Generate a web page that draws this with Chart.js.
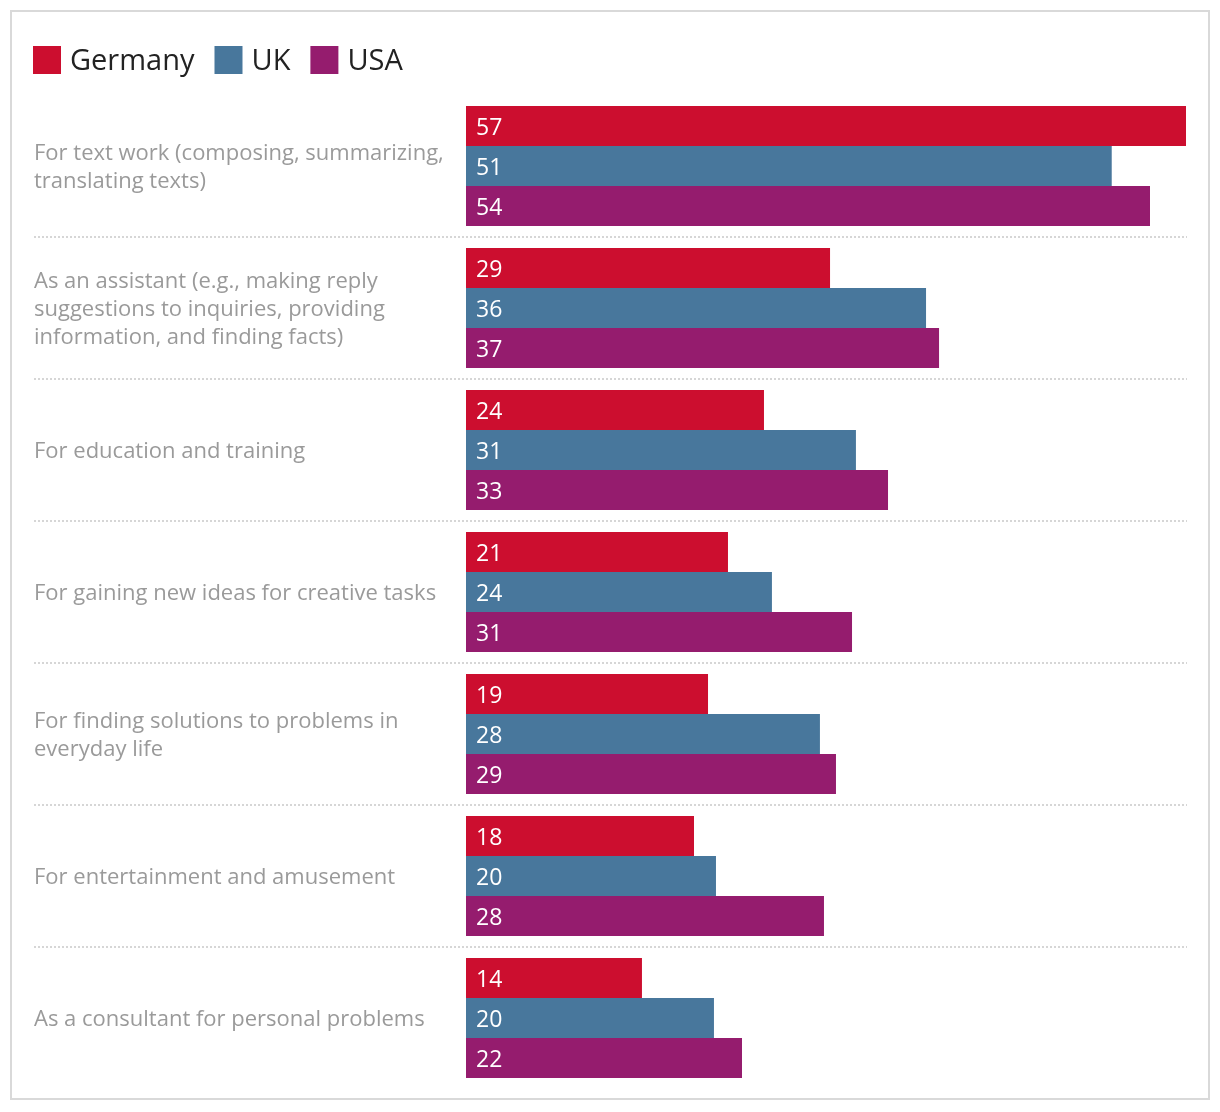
<!DOCTYPE html>
<html>
<head>
<meta charset="utf-8">
<script src="https://cdn.jsdelivr.net/npm/chart.js@4/dist/chart.umd.min.js"></script>
<style>
  html, body { margin: 0; padding: 0; background: #fff; }
  #wrap { position: relative; width: 1220px; height: 1112px; }
  #frame { position: absolute; left: 10px; top: 10px; width: 1196px; height: 1086px; border: 2px solid #d9d9d9; pointer-events: none; }
  canvas { position: absolute; left: 0; top: 0; }
</style>
</head>
<body>
<div id="wrap">
  <canvas id="c" width="1220" height="1112"></canvas>
  <div id="frame"></div>
</div>
<script>
const categories = [
  ["For text work (composing, summarizing,", "translating texts)"],
  ["As an assistant (e.g., making reply", "suggestions to inquiries, providing", "information, and finding facts)"],
  "For education and training",
  "For gaining new ideas for creative tasks",
  ["For finding solutions to problems in", "everyday life"],
  "For entertainment and amusement",
  "As a consultant for personal problems"
];
const seriesNames = ["Germany", "UK", "USA"];
// bar lengths
const germany = [57, 28.82, 23.59, 20.74, 19.16, 18.05, 13.93];
const uk = [51.12, 36.42, 30.87, 24.22, 28.02, 19.79, 19.63];
const usa = [54.15, 37.45, 33.41, 30.56, 29.29, 28.34, 21.85];
// printed value labels
const germanyLabels = [57, 29, 24, 21, 19, 18, 14];
const ukLabels = [51, 36, 31, 24, 28, 20, 20];
const usaLabels = [54, 37, 33, 31, 29, 28, 22];
const colors = ["#cc0e2f", "#48779c", "#951c6e"];

const FONT = "'Open Sans', 'Noto Sans', sans-serif";

const legendPlugin = {
  id: 'customLegend',
  afterDraw(chart) {
    const ctx = chart.ctx;
    ctx.save();
    ctx.font = "29px " + FONT;
    ctx.textBaseline = 'middle';
    ctx.textAlign = 'left';
    let x = 33;
    chart.data.datasets.forEach(ds => {
      ctx.fillStyle = ds.backgroundColor;
      ctx.fillRect(x, 46, 28, 28);
      ctx.fillStyle = '#222';
      ctx.fillText(ds.label, x + 37, 62);
      x += 37 + ctx.measureText(ds.label).width + 20;
    });
    ctx.restore();
  }
};

const separatorPlugin = {
  id: 'separators',
  beforeDatasetsDraw(chart) {
    const ctx = chart.ctx;
    const y = chart.scales.y;
    const n = chart.data.labels.length;
    ctx.save();
    ctx.strokeStyle = '#d6d6d6';
    ctx.lineWidth = 2;
    ctx.setLineDash([2, 2]);
    for (let i = 0; i < n - 1; i++) {
      const yy = Math.round((y.getPixelForValue(i) + y.getPixelForValue(i + 1)) / 2);
      ctx.beginPath();
      ctx.moveTo(34, yy);
      ctx.lineTo(chart.chartArea.right + 1, yy);
      ctx.stroke();
    }
    ctx.restore();
  }
};

const valueLabelPlugin = {
  id: 'valueLabels',
  afterDatasetsDraw(chart) {
    const ctx = chart.ctx;
    ctx.save();
    ctx.font = "23px " + FONT;
    ctx.fillStyle = '#fff';
    ctx.textBaseline = 'middle';
    ctx.textAlign = 'left';
    chart.data.datasets.forEach((ds, di) => {
      const meta = chart.getDatasetMeta(di);
      meta.data.forEach((bar, i) => {
        ctx.fillText(String(ds.valueLabels[i]), bar.base + 10, bar.y + 2);
      });
    });
    ctx.restore();
  }
};

new Chart(document.getElementById('c'), {
  type: 'bar',
  data: {
    labels: categories,
    datasets: [
      { label: seriesNames[0], data: germany, valueLabels: germanyLabels, backgroundColor: colors[0] },
      { label: seriesNames[1], data: uk, valueLabels: ukLabels, backgroundColor: colors[1] },
      { label: seriesNames[2], data: usa, valueLabels: usaLabels, backgroundColor: colors[2] }
    ]
  },
  options: {
    indexAxis: 'y',
    responsive: false,
    animation: false,
    devicePixelRatio: 1,
    layout: { padding: { left: 34, right: 34, top: 95, bottom: 23 } },
    datasets: { bar: { categoryPercentage: 120 / 142, barPercentage: 1, borderWidth: 0 } },
    plugins: { legend: { display: false }, tooltip: { enabled: false }, title: { display: false } },
    scales: {
      x: { display: false, min: 0, max: 57 },
      y: {
        grid: { display: false },
        border: { display: false },
        ticks: {
          crossAlign: 'far',
          color: '#9a9a9a',
          font: { family: FONT, size: 22, lineHeight: 28 / 22 },
          padding: 0,
          labelOffset: 2
        },
        afterFit(scale) {
          scale.width = 432;
          scale.paddingTop = 0;
          scale.paddingBottom = 0;
        }
      }
    }
  },
  plugins: [legendPlugin, separatorPlugin, valueLabelPlugin]
});
</script>
</body>
</html>
